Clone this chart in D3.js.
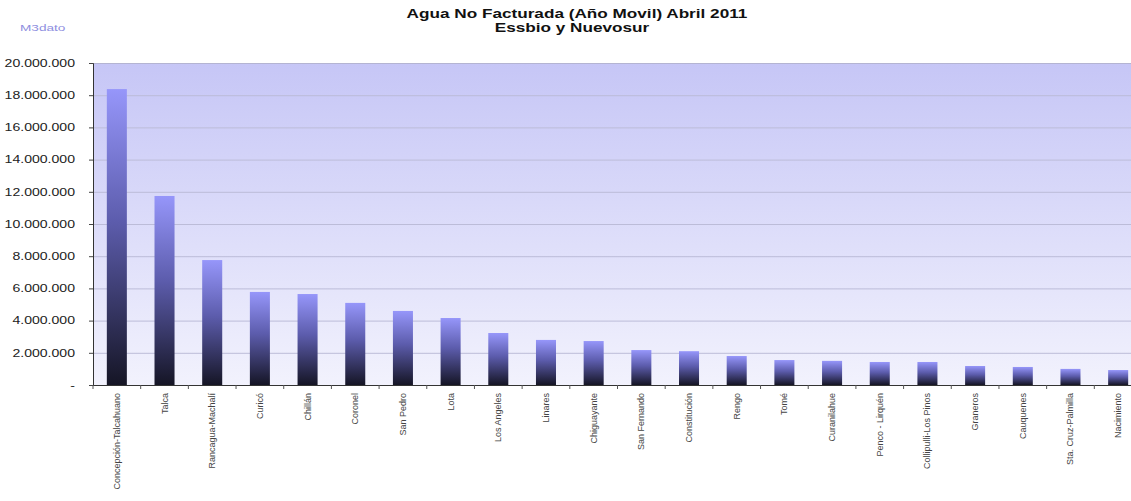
<!DOCTYPE html>
<html>
<head>
<meta charset="utf-8">
<script src="https://cdn.jsdelivr.net/npm/d3@7"></script>
<style>
body { margin: 0; background: #fff; overflow: hidden; }
text { font-family: "Liberation Sans", Arial, sans-serif; }
</style>
</head>
<body>
<svg width="1131" height="501"></svg>
<script>
var categories = ["Concepción-Talcahuano", "Talca", "Rancagua-Machalí", "Curicó", "Chillán",
	"Coronel", "San Pedro", "Lota", "Los Angeles", "Linares", "Chiguayante", "San Fernando",
	"Constitución", "Rengo", "Tomé", "Curanilahue", "Penco - Lirquén", "Collipulli-Los Pinos",
	"Graneros", "Cauquenes", "Sta. Cruz-Palmilla", "Nacimiento"];
var values = [18380000, 11740000, 7760000, 5780000, 5650000, 5100000, 4600000, 4160000,
	3230000, 2800000, 2730000, 2170000, 2100000, 1800000, 1550000, 1500000, 1430000, 1430000,
	1180000, 1120000, 1000000, 930000];
var yTicks = [0, 2000000, 4000000, 6000000, 8000000, 10000000, 12000000, 14000000, 16000000, 18000000, 20000000];
var title = ["Agua No Facturada (Año Movil) Abril 2011", "Essbio y Nuevosur"];
var unitLabel = "M3dato";

// the picture is stretched sideways, so text gets widened
var widen = function(sel, k){
	sel.each(function(){
		var w = this.getComputedTextLength();
		d3.select(this).attr("textLength", w * k).attr("lengthAdjust", "spacingAndGlyphs");
	});
};

var margin = {top: 63, left: 93, right: -11, bottom: 116},
	width = 1131 - margin.left - margin.right,
	height = 501 - margin.top - margin.bottom;

var svg = d3.select("svg");
var defs = svg.append("defs");

var bg = defs.append("linearGradient").attr("id", "bg").attr("x1", 0).attr("y1", 0).attr("x2", 0).attr("y2", 1);
bg.append("stop").attr("offset", "0%").attr("stop-color", "#c6c6f6");
bg.append("stop").attr("offset", "100%").attr("stop-color", "#f2f2fd");

var bar = defs.append("linearGradient").attr("id", "bar").attr("x1", 0).attr("y1", 0).attr("x2", 0).attr("y2", 1);
bar.append("stop").attr("offset", "0%").attr("stop-color", "#9696fa");
bar.append("stop").attr("offset", "45%").attr("stop-color", "#5c5cac");
bar.append("stop").attr("offset", "100%").attr("stop-color", "#151525");

var g = svg.append("g").attr("transform", "translate(" + margin.left + "," + margin.top + ")");

var x = d3.scaleBand().domain(categories).range([0, width]).paddingInner(0.58).paddingOuter(0.29);
var y = d3.scaleLinear().domain([0, 20000000]).range([height, 0]);

g.append("rect").attr("width", width).attr("height", height).attr("fill", "url(#bg)");
g.append("line").attr("x1", 0).attr("x2", width).attr("y1", 0.5).attr("y2", 0.5).attr("stroke", "#b4b4d2");

g.selectAll(".grid").data(yTicks.slice(1, -1)).enter().append("line")
	.attr("x1", 0).attr("x2", width)
	.attr("y1", function(d){ return y(d) + 0.5; }).attr("y2", function(d){ return y(d) + 0.5; })
	.attr("stroke", "#bcbcd8").attr("stroke-width", 1);

g.selectAll(".bar").data(values).enter().append("rect")
	.attr("x", function(d, i){ return x(categories[i]); })
	.attr("y", function(d){ return y(d); })
	.attr("width", x.bandwidth())
	.attr("height", function(d){ return height - y(d); })
	.attr("fill", "url(#bar)");

var fmt = function(d){ return d === 0 ? "-" : d3.format(",")(d).replace(/,/g, "."); };

var yAxis = g.append("g").call(d3.axisLeft(y).tickValues(yTicks).tickFormat(fmt).tickSize(4).tickPadding(14));
yAxis.selectAll("text").attr("font-size", 10.5).attr("fill", "#222").call(widen, 1.34);
yAxis.selectAll("line").attr("stroke", "#444");
yAxis.select(".domain").attr("stroke", "#333");

// category boundary ticks
var step = x.step();
var bounds = d3.range(categories.length + 1).map(function(i){ return x(categories[0]) - x.paddingInner() * step / 2 + i * step; });
g.append("line").attr("x1", 0).attr("x2", width).attr("y1", height + 0.5).attr("y2", height + 0.5).attr("stroke", "#333");
g.selectAll(".btick").data(bounds).enter().append("line")
	.attr("x1", function(d){ return d; }).attr("x2", function(d){ return d; })
	.attr("y1", height).attr("y2", height + 4).attr("stroke", "#555");

g.selectAll(".xlab").data(categories).enter().append("text")
	.attr("transform", function(d){ return "translate(" + (x(d) + x.bandwidth() / 2 + 3) + "," + (height + 8) + ") rotate(-90)"; })
	.attr("text-anchor", "end")
	.attr("font-size", 9)
	.attr("fill", "#444")
	.text(function(d){ return d; });

svg.selectAll(".title").data(title).enter().append("text")
	.attr("x", function(d, i){ return i ? 572 : 577; }).attr("y", function(d, i){ return 18 + i * 14; })
	.attr("text-anchor", "middle")
	.attr("font-size", 12).attr("font-weight", "bold").attr("fill", "#111")
	.text(function(d){ return d; })
	.call(widen, 1.43);

svg.append("text").attr("x", 20).attr("y", 31).attr("font-size", 8.5).attr("fill", "#8e8ee0").text(unitLabel).call(widen, 1.6);
</script>
</body>
</html>
